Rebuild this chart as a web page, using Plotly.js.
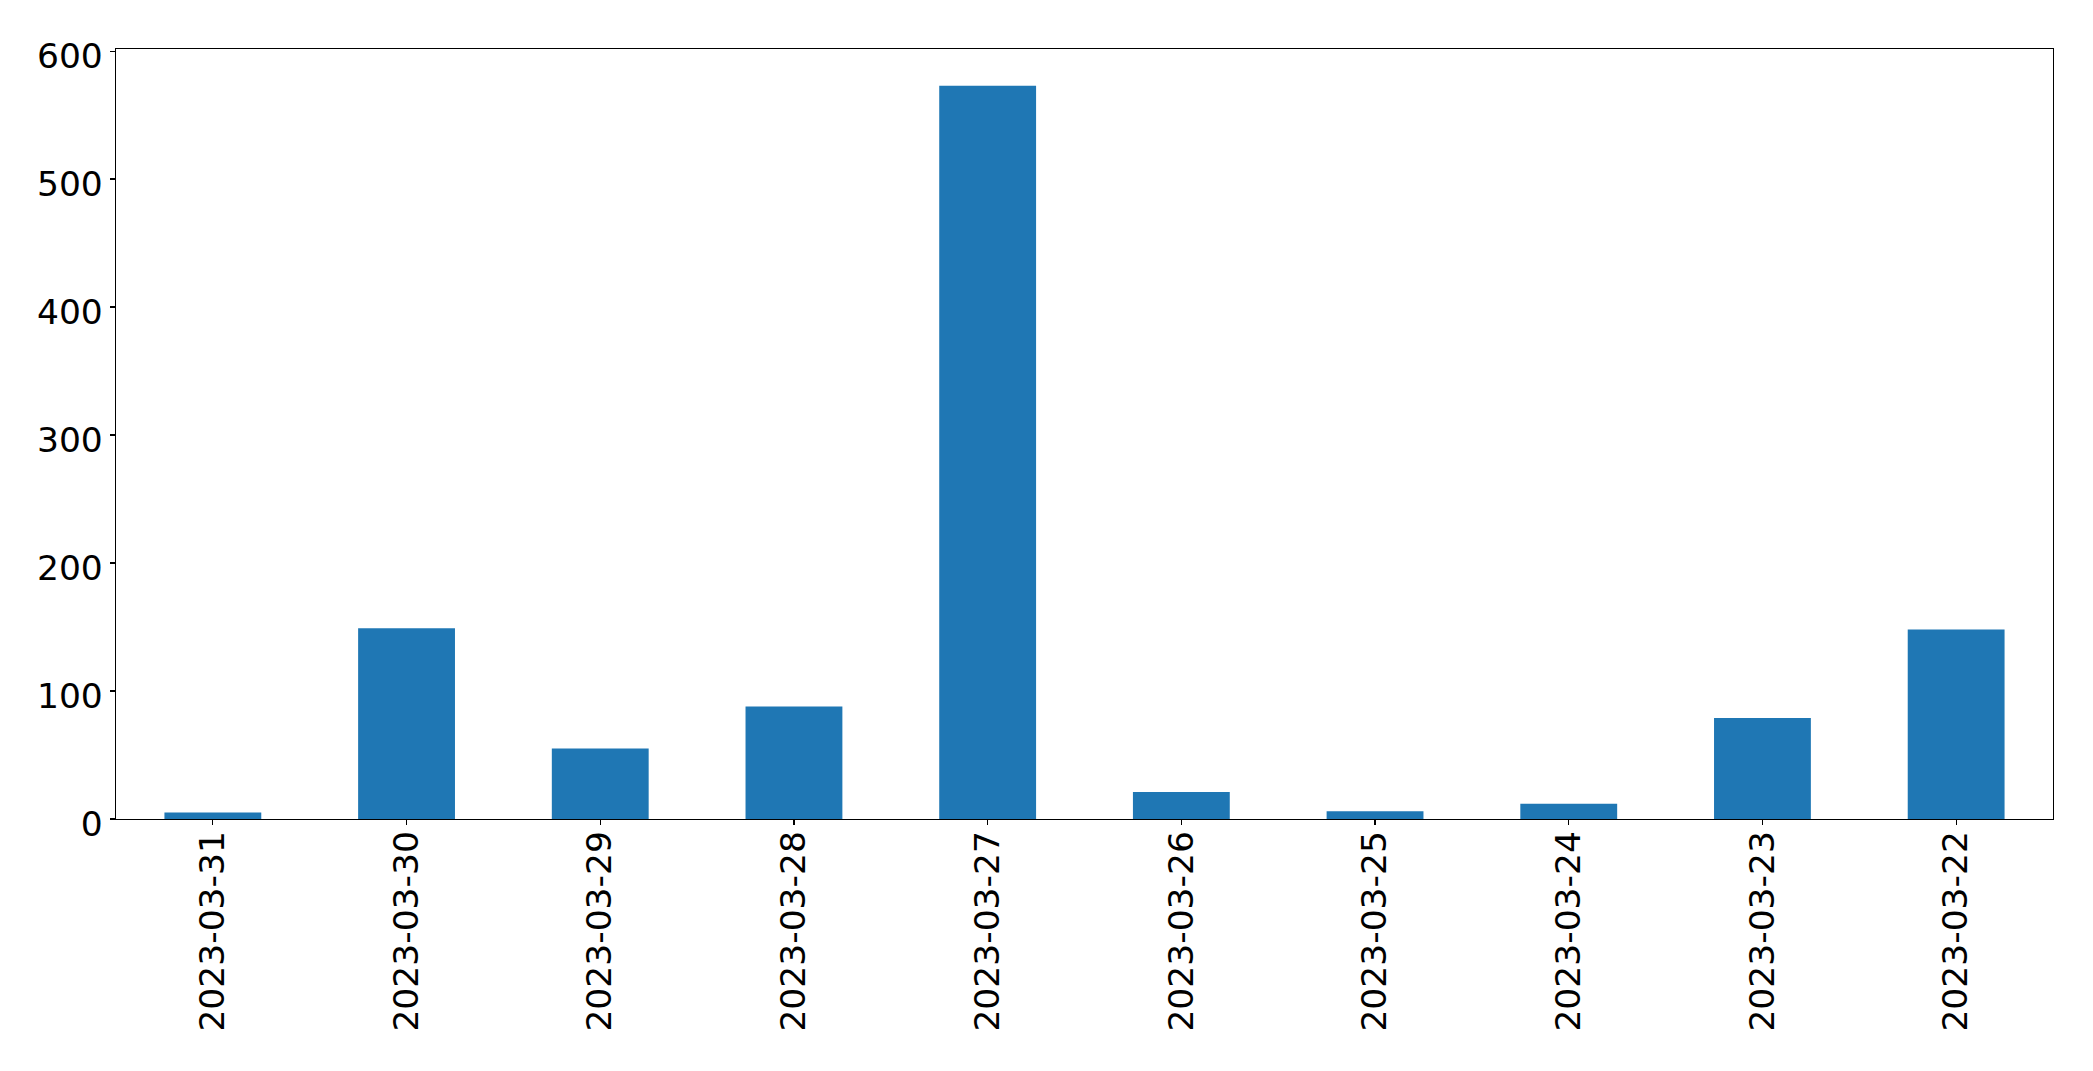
<!DOCTYPE html>
<html>
<head>
<meta charset="utf-8">
<script src="https://cdn.plot.ly/plotly-3.0.1.min.js"></script>
<style>html,body{margin:0;padding:0;background:#fff;}#chart{width:2093px;height:1071px;}</style>
</head>
<body>
<div id="chart"></div>
<script>
const dates = ["2023-03-31","2023-03-30","2023-03-29","2023-03-28","2023-03-27","2023-03-26","2023-03-25","2023-03-24","2023-03-23","2023-03-22"];
const counts = [5, 149, 55, 88, 573, 21, 6, 12, 79, 148];
const yTicks = [0, 100, 200, 300, 400, 500, 600];

const trace = {
  type: 'bar',
  x: dates,
  y: counts,
  marker: {color: '#1f77b4', line: {width: 0}},
  hoverinfo: 'x+y'
};

const font = {family: 'DejaVu Sans, sans-serif', size: 34.5, color: '#000'};

const layout = {
  width: 2093,
  height: 1071,
  margin: {l: 116, r: 40, t: 49, b: 252, pad: 0},
  paper_bgcolor: '#fff',
  plot_bgcolor: '#fff',
  showlegend: false,
  bargap: 0.5,
  font: font,
  xaxis: {
    type: 'category',
    range: [-0.5, dates.length - 0.5],
    tickangle: -90,
    ticks: 'outside',
    ticklen: 5,
    tickwidth: 1.2,
    tickcolor: '#000',
    ticklabelstandoff: -8,
    showline: true,
    linecolor: '#000',
    linewidth: 1.3,
    mirror: true,
    showgrid: false,
    zeroline: false,
    tickfont: font
  },
  yaxis: {
    range: [0, Math.max(...counts) * 1.05],
    tickmode: 'array',
    tickvals: yTicks,
    ticktext: yTicks.map(String),
    ticks: 'outside',
    ticklen: 5,
    tickwidth: 1.2,
    tickcolor: '#000',
    ticklabelshift: 5,
    showline: true,
    linecolor: '#000',
    linewidth: 1.3,
    mirror: true,
    showgrid: false,
    zeroline: false,
    tickfont: font
  }
};

Plotly.newPlot('chart', [trace], layout, {displayModeBar: false, staticPlot: true});
</script>
</body>
</html>
